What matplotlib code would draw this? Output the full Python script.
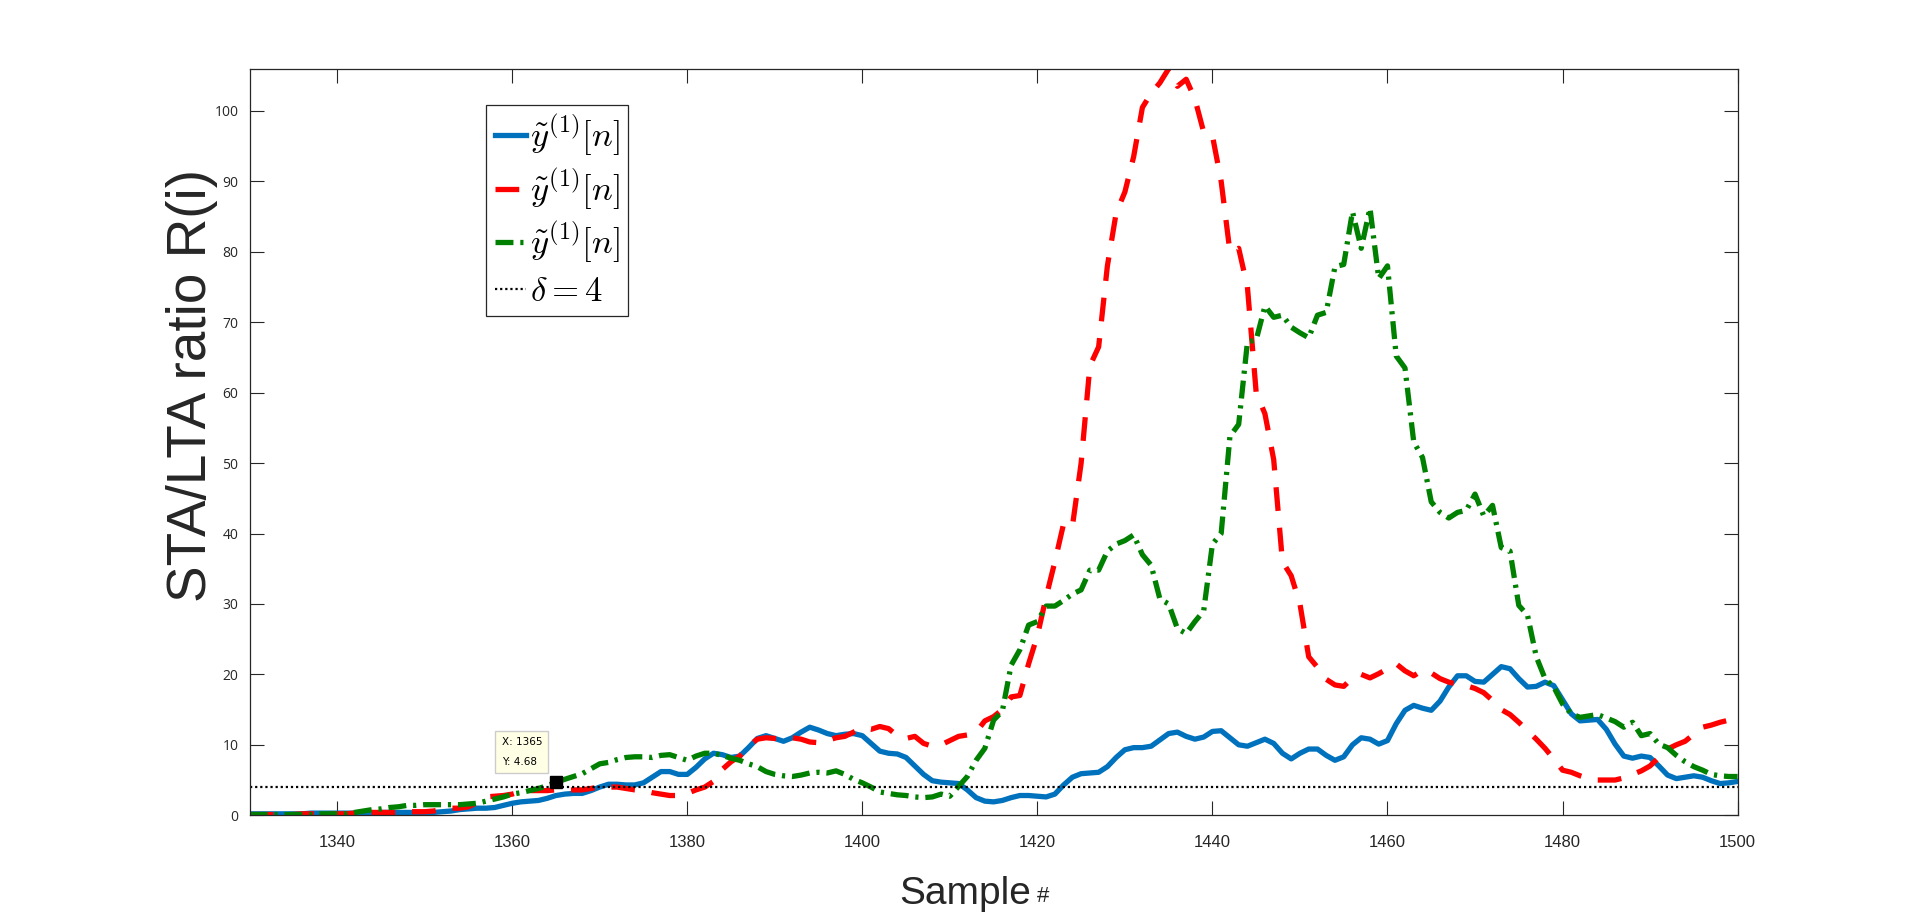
import numpy as np
import matplotlib.pyplot as plt
from matplotlib import font_manager

plt.rcParams['mathtext.fontset'] = 'cm'

names = {f.name for f in font_manager.fontManager.ttflist}
narrow = 'Liberation Sans Narrow' if 'Liberation Sans Narrow' in names else 'Liberation Sans'

samples = np.arange(1330, 1501)

blue = [0.2, 0.2, 0.2, 0.2, 0.2, 0.2, 0.2, 0.3, 0.3, 0.3,
        0.3, 0.3, 0.3, 0.3, 0.3, 0.4, 0.4, 0.4, 0.4, 0.4,
        0.4, 0.4, 0.5, 0.6, 0.8, 0.9, 1.0, 1.0, 1.1, 1.4,
        1.7, 1.9, 2.0, 2.1, 2.4, 2.8, 3.0, 3.1, 3.1, 3.5,
        4.0, 4.4, 4.4, 4.3, 4.3, 4.6, 5.4, 6.2, 6.2, 5.8,
        5.8, 6.8, 8.0, 8.8, 8.6, 8.2, 8.4, 9.6, 10.9, 11.3,
        10.9, 10.5, 11.0, 11.8, 12.5, 12.1, 11.6, 11.3, 11.5, 11.6,
        11.3, 10.2, 9.1, 8.8, 8.7, 8.2, 7.0, 5.8, 4.9, 4.7,
        4.6, 4.5, 3.6, 2.5, 2.0, 1.9, 2.1, 2.5, 2.8, 2.8,
        2.7, 2.6, 3.0, 4.3, 5.4, 5.9, 6.0, 6.1, 6.9, 8.2,
        9.3, 9.6, 9.6, 9.8, 10.7, 11.6, 11.8, 11.2, 10.8, 11.1,
        11.9, 12.0, 11.0, 10.0, 9.8, 10.3, 10.8, 10.2, 8.8, 8.0,
        8.8, 9.4, 9.4, 8.5, 7.8, 8.3, 10.0, 11.0, 10.8, 10.1,
        10.6, 13.0, 14.9, 15.6, 15.2, 14.9, 16.2, 18.2, 19.8, 19.8,
        19.0, 18.9, 20.0, 21.1, 20.8, 19.4, 18.2, 18.3, 18.9, 18.4,
        16.4, 14.4, 13.4, 13.5, 13.6, 12.2, 10.1, 8.4, 8.1, 8.4,
        8.2, 7.0, 5.7, 5.2, 5.4, 5.6, 5.4, 4.9, 4.5, 4.6,
        4.8]

red = [0.1, 0.1, 0.1, 0.1, 0.1, 0.1, 0.2, 0.2, 0.2, 0.2,
       0.2, 0.2, 0.3, 0.3, 0.4, 0.4, 0.4, 0.4, 0.5, 0.5,
       0.5, 0.6, 0.8, 1.0, 1.0, 1.2, 1.8, 2.6, 2.7, 2.8,
       3.0, 3.4, 3.5, 3.5, 3.5, 3.6, 3.6, 3.6, 3.6, 3.8,
       4.0, 4.0, 4.0, 3.8, 3.6, 3.5, 3.2, 3.0, 2.8, 2.8,
       3.1, 3.6, 4.0, 4.8, 6.5, 7.6, 8.4, 9.8, 10.8, 11.0,
       10.9, 10.9, 11.0, 10.8, 10.4, 10.3, 10.6, 11.0, 11.2, 11.8,
       12.4, 12.2, 12.6, 12.3, 11.3, 10.9, 11.2, 10.2, 9.8, 10.0,
       10.6, 11.2, 11.4, 11.8, 13.4, 14.0, 15.0, 16.8, 17.0, 21.5,
       25.5, 31.0, 36.0, 41.4, 41.0, 50.0, 63.8, 66.5, 78.0, 85.5,
       88.5, 93.5, 100.5, 102.5, 104.0, 106.0, 103.5, 104.5, 101.7, 97.0,
       96.5, 90.0, 80.0, 80.5, 75.0, 60.0, 57.0, 50.5, 36.0, 34.0,
       30.0, 22.5, 21.0, 19.3, 18.5, 18.3, 19.5, 20.0, 19.5, 20.1,
       20.8, 21.5, 20.5, 19.8, 20.6, 20.2, 19.4, 18.9, 18.6, 18.4,
       18.0, 17.4, 16.3, 15.0, 14.3, 13.2, 12.0, 10.8, 9.5, 8.0,
       6.4, 6.1, 5.6, 5.2, 5.0, 5.0, 5.0, 5.3, 5.8, 6.3,
       7.0, 8.2, 9.4, 10.0, 10.5, 11.5, 12.5, 12.8, 13.2, 13.5,
       13.8]

green = [0.1, 0.1, 0.1, 0.1, 0.1, 0.1, 0.1, 0.1, 0.2, 0.2,
         0.2, 0.2, 0.4, 0.6, 0.8, 0.9, 1.1, 1.2, 1.4, 1.4,
         1.5, 1.5, 1.5, 1.5, 1.5, 1.6, 1.7, 2.0, 2.3, 2.6,
         3.0, 3.2, 3.5, 3.8, 4.2, 4.68, 5.1, 5.5, 5.9, 6.6,
         7.3, 7.5, 7.9, 8.2, 8.3, 8.3, 8.2, 8.5, 8.6, 8.2,
         7.8, 8.4, 8.8, 8.8, 8.5, 8.1, 7.8, 7.3, 6.9, 6.2,
         5.8, 5.6, 5.5, 5.7, 6.0, 6.1, 6.0, 6.3, 5.8, 5.1,
         4.6, 4.0, 3.3, 3.1, 2.9, 2.8, 2.6, 2.5, 2.6, 3.0,
         2.7, 4.1, 5.5, 7.8, 9.5, 13.5, 14.8, 21.3, 23.5, 27.0,
         27.5, 29.7, 29.7, 30.5, 31.4, 32.0, 34.8, 34.8, 37.5, 38.5,
         39.0, 39.8, 37.0, 35.5, 30.7, 30.0, 26.5, 25.8, 27.5, 29.0,
         38.5, 40.0, 53.8, 55.5, 67.2, 67.5, 72.3, 70.7, 71.0, 69.3,
         68.5, 67.8, 71.0, 71.4, 77.9, 78.2, 85.7, 80.5, 86.2, 76.2,
         78.0, 65.2, 63.5, 53.0, 50.8, 44.5, 43.0, 42.2, 43.0, 43.3,
         45.6, 42.5, 44.0, 38.0, 37.5, 29.8, 28.4, 22.5, 19.4, 18.2,
         15.8, 14.4, 13.9, 14.1, 14.3, 13.8, 13.3, 12.5, 13.2, 11.3,
         11.6, 10.1, 9.6, 8.5, 7.6, 6.9, 6.4, 5.8, 5.6, 5.5,
         5.5]

delta = 4
tip_x, tip_y = 1365, 4.68
label = r'$\tilde{y}^{(1)}[n]$'

fig = plt.figure(figsize=(19.2, 9.16), dpi=100)
ax = fig.add_axes([0.13, 0.11, 0.775, 0.815])

ax.plot(samples, blue, color='#0072BD', lw=3.8, label=label)
ax.plot(samples, red, color='#FF0000', lw=3.8, ls=(0, (4.5, 3.2)), label=label)
ax.plot(samples, green, color='#008000', lw=3.8, ls=(0, (3.4, 1.3, 0.6, 1.3)), label=label)
ax.plot([samples[0], samples[-1]], [delta, delta], color='black', lw=1.6,
        ls=(0, (1, 1.3)), label=r'$\delta = 4$')

# data tip
ax.plot(tip_x, tip_y, 's', color='black', ms=8, zorder=5)
ax.annotate('X: %d\nY: %.2f' % (tip_x, tip_y), xy=(tip_x, tip_y),
            xytext=(-10, 11), textcoords='offset points', ha='right', va='bottom',
            multialignment='left', fontsize=7.5, family='DejaVu Sans', linespacing=2.2,
            bbox=dict(boxstyle='square,pad=0.6', fc='#FFFFE6', ec='#CCCCCC', lw=1))

ax.set_xlim(1330, 1500)
ax.set_ylim(0, 106)
ax.set_xticks(np.arange(1340, 1501, 20))
ax.set_yticks(np.arange(0, 101, 10))
ax.tick_params(direction='in', length=10, width=0.8, colors='#262626',
               top=True, right=True)
for lab in ax.get_xticklabels():
    lab.set_family(narrow)
    lab.set_fontsize(12)
for lab in ax.get_yticklabels():
    lab.set_family('Open Sans')
    lab.set_fontsize(10)
ax.tick_params(axis='x', pad=14)
ax.tick_params(axis='y', pad=8)
for sp in ax.spines.values():
    sp.set_color('#262626')
    sp.set_linewidth(0.9)

ax.set_ylabel('STA/LTA ratio R(i)', family='Liberation Sans', fontsize=39.5,
              color='#262626')
ax.yaxis.set_label_coords(-0.021, 0.576)
xl = ax.set_xlabel('Sample', family=narrow, fontsize=28, color='#262626')
ax.xaxis.set_label_coords(0.481, -0.082)
ax.annotate('#', xy=(1, 0.15), xycoords=xl, xytext=(4, 0), textcoords='offset points',
            ha='left', va='bottom', family=narrow, fontsize=16, color='#262626')

leg = ax.legend(loc='upper left', bbox_to_anchor=(0.159, 0.952), borderaxespad=0,
                fontsize=25, handlelength=0.9, handletextpad=0.1, labelspacing=0.24,
                borderpad=0.25, fancybox=False, framealpha=1, edgecolor='#262626')
leg.get_frame().set_linewidth(0.9)

fig.savefig('out.png', dpi=100)
